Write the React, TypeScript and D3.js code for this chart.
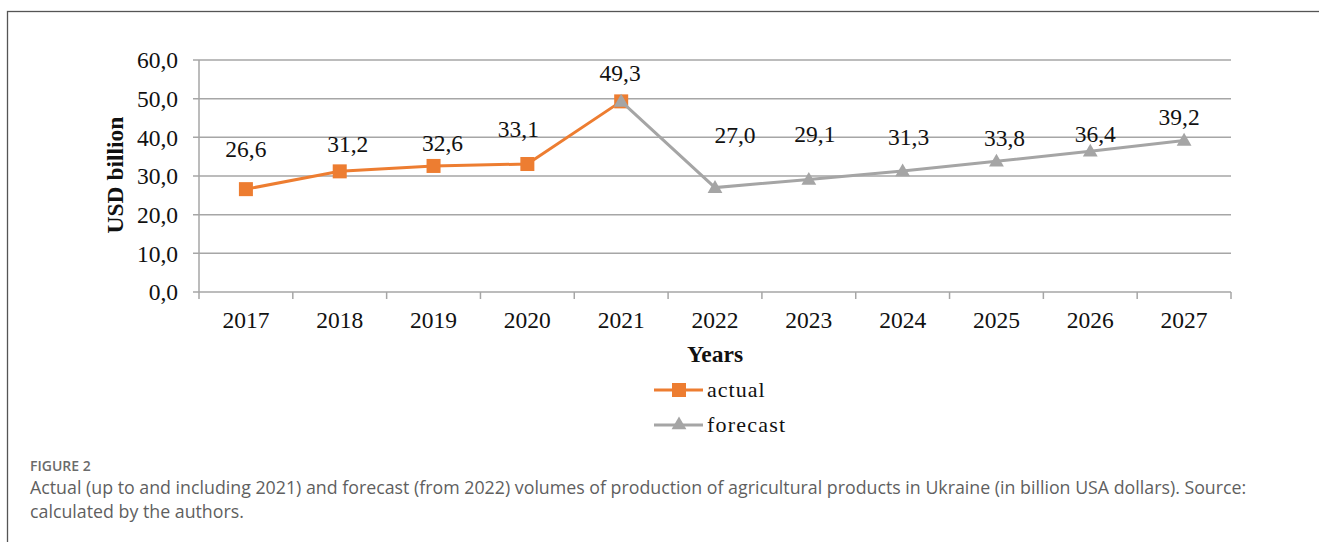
import React from "react";
import * as d3 from "d3";

const years = ["2017", "2018", "2019", "2020", "2021", "2022", "2023", "2024", "2025", "2026", "2027"];
const actualYears = ["2017", "2018", "2019", "2020", "2021"];
const actualValues = [26.6, 31.2, 32.6, 33.1, 49.3];
const forecastYears = ["2021", "2022", "2023", "2024", "2025", "2026", "2027"];
const forecastValues = [49.3, 27.0, 29.1, 31.3, 33.8, 36.4, 39.2];
const yTicks = [0, 10, 20, 30, 40, 50, 60];
// label annotation offsets (px) relative to each point's marker
const labelDx = [0, 8, 9, -9, -1, 20, 6, 6, 8, 5, -5];
const labelDy = [-32, -19, -15, -27, -20, -45, -37, -26, -15, -9, -15];

const W = 1319;
const H = 542;
const serif = "'Liberation Serif', 'Times New Roman', serif";
const sans = "'Open Sans', 'Noto Sans', sans-serif";
const ORANGE = "#ED7D31";
const GRAY = "#A5A5A5";
const GRID = "#A6A6A6";
const FS = 23.5;

const fmt = (v: number) => v.toFixed(1).replace(".", ",");

export default function App() {
  const x = d3.scaleBand<string>().domain(years).range([199, 1231]).padding(0);
  const y = d3.scaleLinear().domain([0, 60]).range([292, 60]);
  const cx = (yr: string) => (x(yr) as number) + x.bandwidth() / 2;

  const line = d3
    .line<[string, number]>()
    .x((d) => cx(d[0]))
    .y((d) => y(d[1]));

  const actualPts: [string, number][] = actualYears.map((yr, i) => [yr, actualValues[i]]);
  const forecastPts: [string, number][] = forecastYears.map((yr, i) => [yr, forecastValues[i]]);

  const labels = years.map((yr, i) => {
    const ai = actualYears.indexOf(yr);
    const v = ai >= 0 ? actualValues[ai] : forecastValues[forecastYears.indexOf(yr)];
    return { yr, v, i };
  });

  const tri = d3.symbol().type(d3.symbolTriangle).size(95)();
  const xTickPositions = [...years.map((yr) => x(yr) as number), 1231];

  return (
    <svg width={W} height={H} style={{ display: "block", position: "absolute", left: 0, top: 0 }}>
      <rect x={0} y={0} width={W} height={H} fill="#fff" />
      <rect x={7.5} y={11.5} width={W + 20} height={H + 20} fill="none" stroke="#555" strokeWidth={1.3} />

      {/* gridlines */}
      {yTicks.map((t) => (
        <g key={t}>
          <line x1={193} x2={1231} y1={y(t)} y2={y(t)} stroke={GRID} strokeWidth={1.5} />
          <text x={178} y={y(t)} dy="0.35em" textAnchor="end" fontFamily={serif} fontSize={FS} fill="#111">
            {fmt(t)}
          </text>
        </g>
      ))}
      {/* y axis */}
      <line x1={199} x2={199} y1={y(60)} y2={y(0)} stroke={GRID} strokeWidth={1.5} />
      {/* x ticks */}
      {xTickPositions.map((p, i) => (
        <line key={i} x1={p} x2={p} y1={y(0)} y2={y(0) + 7} stroke={GRID} strokeWidth={1.5} />
      ))}
      {years.map((yr) => (
        <text key={yr} x={cx(yr)} y={328} textAnchor="middle" fontFamily={serif} fontSize={FS} fill="#111">
          {yr}
        </text>
      ))}

      {/* axis titles */}
      <text
        transform={`translate(123,175) rotate(-90)`}
        textAnchor="middle"
        fontFamily={serif}
        fontWeight="bold"
        fontSize={FS}
        fill="#111"
      >
        USD billion
      </text>
      <text x={715} y={362} textAnchor="middle" fontFamily={serif} fontWeight="bold" fontSize={FS} fill="#111">
        Years
      </text>

      {/* actual series */}
      <path d={line(actualPts) || ""} fill="none" stroke={ORANGE} strokeWidth={3} />
      {actualPts.map(([yr, v]) => (
        <rect key={yr} x={cx(yr) - 7} y={y(v) - 7} width={14} height={14} fill={ORANGE} />
      ))}

      {/* forecast series */}
      <path d={line(forecastPts) || ""} fill="none" stroke={GRAY} strokeWidth={3} />
      {forecastPts.map(([yr, v]) => (
        <path key={yr} d={tri || ""} transform={`translate(${cx(yr)},${y(v) + 1})`} fill={GRAY} />
      ))}

      {/* data labels */}
      {labels.map(({ yr, v, i }) => (
        <text
          key={yr}
          x={cx(yr) + labelDx[i]}
          y={y(v) + labelDy[i]}
          textAnchor="middle"
          fontFamily={serif}
          fontSize={FS}
          fill="#111"
        >
          {fmt(v)}
        </text>
      ))}

      {/* legend */}
      <line x1={654} x2={703} y1={390} y2={390} stroke={ORANGE} strokeWidth={3} />
      <rect x={672} y={383} width={14} height={14} fill={ORANGE} />
      <text x={707} y={397} fontFamily={serif} fontSize={22} letterSpacing={1} fill="#111">
        actual
      </text>
      <line x1={654} x2={703} y1={425} y2={425} stroke={GRAY} strokeWidth={3} />
      <path d={tri || ""} transform={`translate(679,425)`} fill={GRAY} />
      <text x={707} y={432} fontFamily={serif} fontSize={22} letterSpacing={1.2} fill="#111">
        forecast
      </text>

      {/* caption */}
      <text x={30} y={471} fontFamily={sans} fontWeight={600} fontSize={14} fill="#6b6b6b">
        FIGURE 2
      </text>
      <text x={30} y={494} fontFamily={sans} fontSize={17.8} fill="#5f5f5f">
        Actual (up to and including 2021) and forecast (from 2022) volumes of production of agricultural products in Ukraine (in billion USA dollars). Source:
      </text>
      <text x={30} y={518} fontFamily={sans} fontSize={17.8} fill="#5f5f5f">
        calculated by the authors.
      </text>
    </svg>
  );
}
